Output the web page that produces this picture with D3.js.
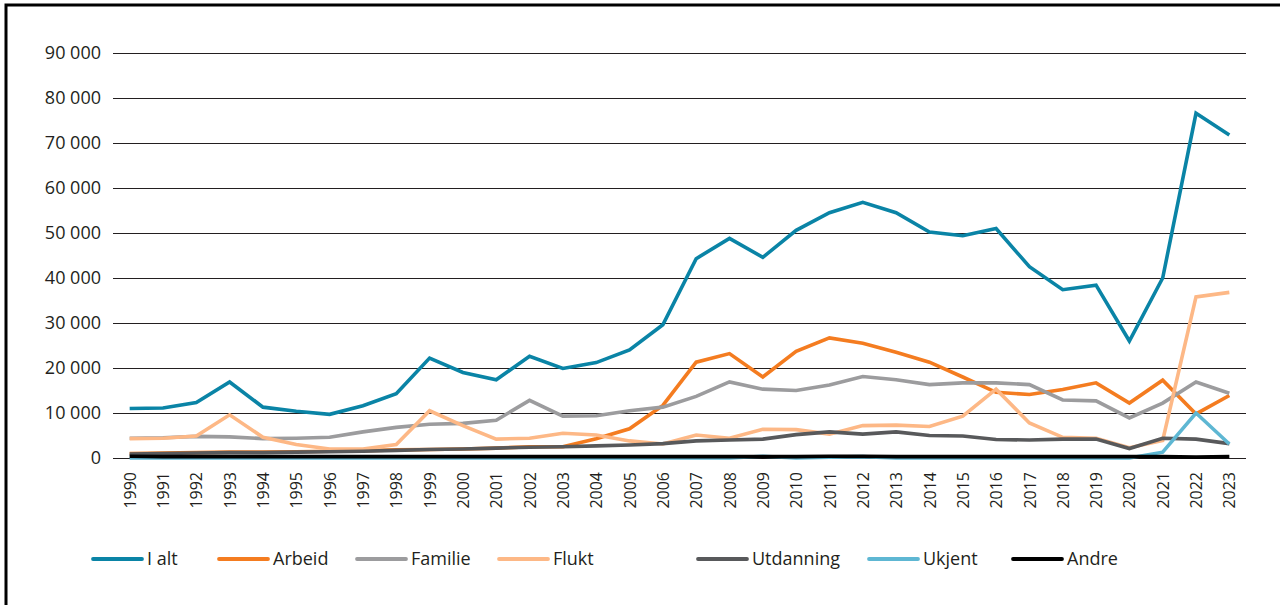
<!DOCTYPE html>
<html>
<head>
<meta charset="utf-8">
<script src="https://cdn.jsdelivr.net/npm/d3@7"></script>
<style>
  body { margin: 0; background: #fff; }
  svg text { font-family: "Open Sans", sans-serif; fill: #231f20; }
</style>
</head>
<body>
<div id="chart"></div>
<script>
var years = d3.range(1990, 2024).map(String);

var iAlt      = [11000, 11100, 12300, 16900, 11300, 10400, 9700, 11600, 14300, 22200, 19000, 17400, 22600, 19900, 21200, 24000, 29600, 44300, 48800, 44600, 50600, 54500, 56800, 54500, 50200, 49400, 51000, 42500, 37400, 38400, 26000, 40000, 76600, 71800];
var arbeid    = [1000, 1100, 1200, 1300, 1300, 1400, 1500, 1600, 1800, 1900, 2000, 2200, 2500, 2500, 4300, 6500, 11700, 21300, 23200, 18000, 23700, 26700, 25500, 23500, 21300, 18000, 14600, 14100, 15200, 16700, 12200, 17300, 9800, 13900];
var familie   = [4400, 4500, 4800, 4700, 4300, 4400, 4600, 5800, 6800, 7500, 7700, 8400, 12800, 9300, 9400, 10500, 11300, 13700, 16900, 15300, 15000, 16200, 18100, 17400, 16300, 16700, 16700, 16300, 12900, 12700, 8900, 12200, 16900, 14400];
var flukt     = [4300, 4400, 4900, 9600, 4600, 3000, 2000, 2000, 3000, 10500, 7200, 4200, 4400, 5500, 5100, 3800, 3100, 5100, 4400, 6400, 6300, 5300, 7200, 7300, 7000, 9300, 15300, 7800, 4600, 4400, 2300, 3900, 35800, 36800];
var utdanning = [900, 1000, 1100, 1200, 1200, 1300, 1400, 1500, 1700, 1900, 2000, 2200, 2400, 2500, 2700, 2900, 3200, 3800, 4000, 4200, 5200, 5800, 5300, 5800, 5000, 4900, 4100, 4000, 4200, 4200, 2100, 4400, 4200, 3200];
var ukjent    = [0, 0, 0, 0, 0, 0, 0, 0, 0, 0, 0, 0, 0, 0, 0, 0, 0, 0, 0, 400, 0, 200, 300, 0, 0, 0, 0, 0, 0, 0, 0, 1300, 10000, 3100];
var andre     = [400, 300, 300, 300, 300, 300, 300, 300, 300, 300, 300, 300, 300, 300, 300, 300, 300, 300, 300, 300, 300, 400, 400, 300, 300, 300, 300, 300, 300, 300, 300, 300, 200, 300];

var seriesNames  = ["I alt", "Arbeid", "Familie", "Flukt", "Utdanning", "Ukjent", "Andre"];
var seriesValues = [iAlt, arbeid, familie, flukt, utdanning, ukjent, andre];
var colors       = ["#0a84a6", "#f47c20", "#9c9c9e", "#fdb886", "#58595b", "#5eb7d3", "#000000"];
var yTicks       = [0, 10000, 20000, 30000, 40000, 50000, 60000, 70000, 80000, 90000];

var svg = d3.select("#chart")
            .append("svg")
            .attr("width", 1280)
            .attr("height", 605);

// frame (only top and left edges show)
svg.append("rect")
    .attr("x", 6).attr("y", 5)
    .attr("width", 1290).attr("height", 620)
    .attr("fill", "none")
    .attr("stroke", "#000")
    .attr("stroke-width", 3);

var x = d3.scalePoint()
            .domain(years)
            .range([113, 1246])
            .padding(0.5);

var y = d3.scaleLinear()
            .domain([0, 90000])
            .range([458, 53]);

var fmt = function(d) { return d3.format(",")(d).replace(/,/g, " "); };

// gridlines
svg.append("g")
    .selectAll("line")
    .data(yTicks)
    .enter()
    .append("line")
    .attr("x1", 113)
    .attr("x2", 1246)
    .attr("y1", function(d) { return Math.round(y(d)) + 0.5; })
    .attr("y2", function(d) { return Math.round(y(d)) + 0.5; })
    .attr("stroke", "#231f20")
    .attr("stroke-width", 1)
    .attr("shape-rendering", "crispEdges");

// Y axis labels
var yAxis = svg.append("g")
    .attr("transform", "translate(113,0)")
    .call(d3.axisLeft(y).tickValues(yTicks).tickFormat(fmt).tickSize(0).tickPadding(12));
yAxis.select(".domain").remove();
yAxis.selectAll("text")
    .style("font-family", "Open Sans")
    .style("font-size", 18)
    .attr("fill", "#231f20");

// X axis labels
var xAxis = svg.append("g")
    .attr("transform", "translate(0,458)")
    .call(d3.axisBottom(x).tickSize(0));
xAxis.select(".domain").remove();
xAxis.selectAll("text")
    .attr("transform", "rotate(-90)")
    .attr("x", -14)
    .attr("y", 0)
    .attr("dy", "0.35em")
    .style("text-anchor", "end")
    .style("font-family", "Open Sans")
    .style("font-size", 16)
    .attr("fill", "#231f20");

// Lines
var line = d3.line()
    .x(function(d, i) { return x(years[i]); })
    .y(function(d) { return y(d); });

svg.append("g")
    .selectAll("path")
    .data(seriesValues)
    .enter()
    .append("path")
    .attr("d", function(d) { return line(d); })
    .attr("fill", "none")
    .attr("stroke", function(d, i) { return colors[i]; })
    .attr("stroke-width", 3.6)
    .attr("stroke-linejoin", "miter");

// Legend
var legendX = [93, 219, 357, 499, 698, 869, 1013];
var legend = svg.append("g")
    .selectAll("g")
    .data(seriesNames)
    .enter()
    .append("g")
    .attr("transform", function(d, i) { return "translate(" + legendX[i] + ",559)"; });

legend.append("line")
    .attr("x1", 0).attr("x2", 49)
    .attr("y1", 0).attr("y2", 0)
    .attr("stroke", function(d, i) { return colors[i]; })
    .attr("stroke-width", 3.8)
    .attr("stroke-linecap", "round");

legend.append("text")
    .attr("x", 54)
    .attr("y", 0)
    .attr("dy", "0.35em")
    .text(function(d) { return d; })
    .style("font-size", 18);
</script>
</body>
</html>
